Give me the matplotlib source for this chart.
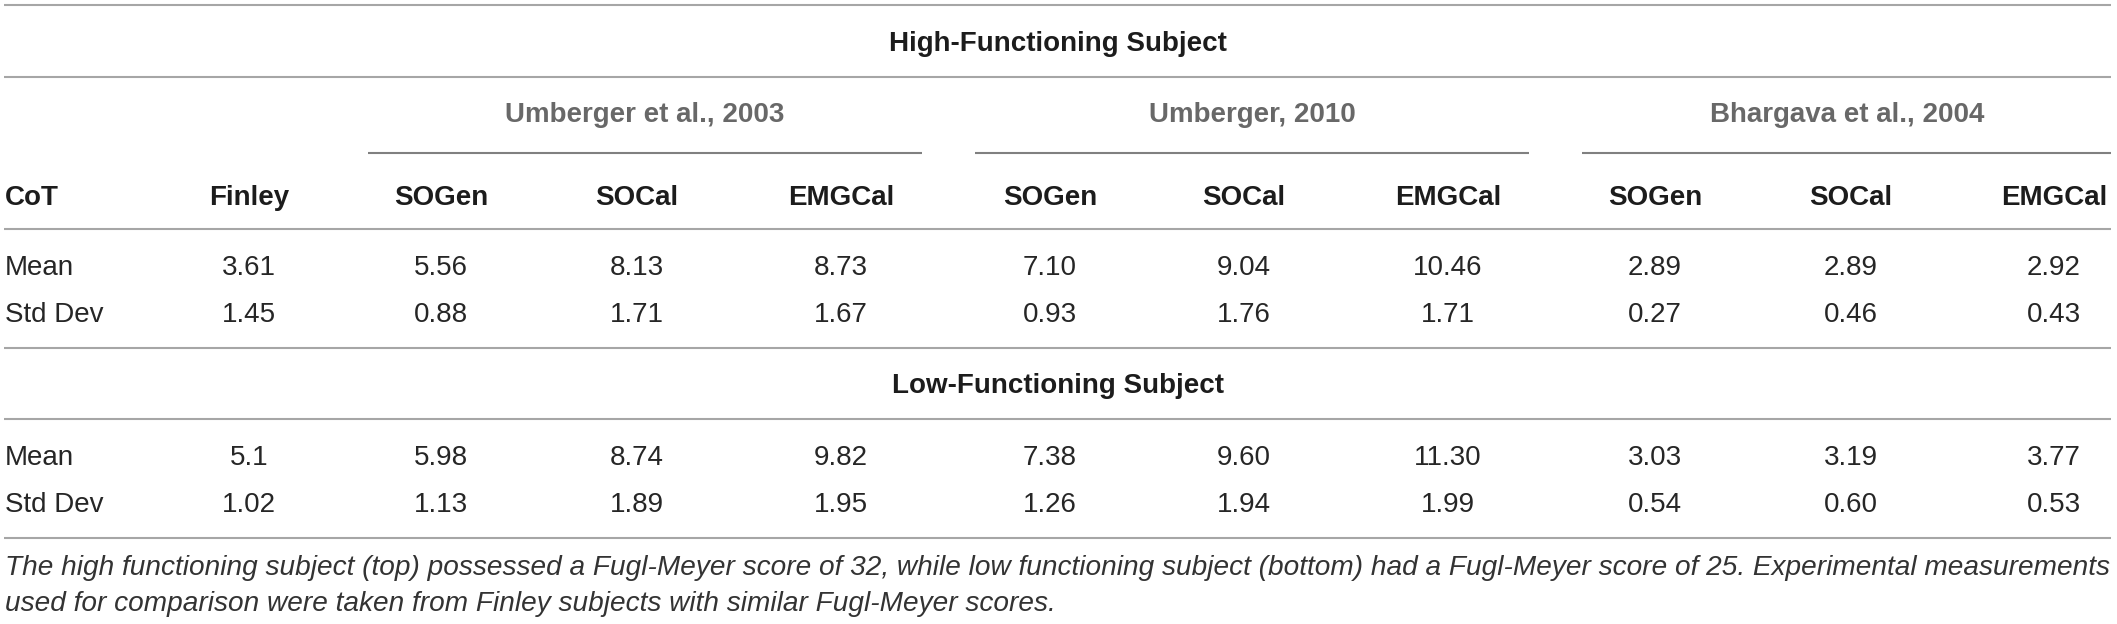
import matplotlib
matplotlib.use("Agg")
import matplotlib.pyplot as plt

# ---------------- data ----------------
row_label_header = "CoT"
first_col = "Finley"
groups = ["Umberger et al., 2003", "Umberger, 2010", "Bhargava et al., 2004"]
methods = ["SOGen", "SOCal", "EMGCal"]
section_titles = ["High-Functioning Subject", "Low-Functioning Subject"]
row_labels = ["Mean", "Std Dev"]

high_mean = ["3.61", "5.56", "8.13", "8.73", "7.10", "9.04", "10.46", "2.89", "2.89", "2.92"]
high_std = ["1.45", "0.88", "1.71", "1.67", "0.93", "1.76", "1.71", "0.27", "0.46", "0.43"]
low_mean = ["5.1", "5.98", "8.74", "9.82", "7.38", "9.60", "11.30", "3.03", "3.19", "3.77"]
low_std = ["1.02", "1.13", "1.89", "1.95", "1.26", "1.94", "1.99", "0.54", "0.60", "0.53"]

caption_lines = [
    "The high functioning subject (top) possessed a Fugl-Meyer score of 32, while low functioning subject (bottom) had a Fugl-Meyer score of 25. Experimental measurements",
    "used for comparison were taken from Finley subjects with similar Fugl-Meyer scores.",
]

# ---------------- layout (pixels) ----------------
W, H = 2117, 624
fig = plt.figure(figsize=(W / 100, H / 100), dpi=100)
ax = fig.add_axes([0, 0, 1, 1])
ax.set_xlim(0, W)
ax.set_ylim(H, 0)
ax.axis("off")

FONT = ["Liberation Sans", "DejaVu Sans"]
FS = 20
left_x = 5
right_x = 2111
col_x = [249, 441, 637, 841, 1050, 1244, 1448, 1655, 1851, 2054]
group_spans = [(368, 922), (975, 1529), (1582, 2111)]
group_cx = [645, 1252, 1847]
center_x = 1058

dark = "#1c1c1c"
num_col = "#262626"
grey_head = "#686868"
line_light = "#a6a6a6"
line_dark = "#808080"
lw = 1.5

# horizontal rules
for y in [5, 77, 229, 348, 419, 538]:
    ax.hlines(y, left_x - 1, right_x, color=line_light, lw=lw)
for (x0, x1) in group_spans:
    ax.hlines(153, x0, x1, color=line_dark, lw=lw)

# section titles
ax.text(center_x, 51, section_titles[0], ha="center", va="baseline",
        fontsize=FS, fontweight="bold", color=dark, family=FONT)
ax.text(center_x, 393, section_titles[1], ha="center", va="baseline",
        fontsize=FS, fontweight="bold", color=dark, family=FONT)

# group headers
for g, cx in zip(groups, group_cx):
    ax.text(cx, 122, g, ha="center", va="baseline", fontsize=FS,
            fontweight="bold", color=grey_head, family=FONT)

# column header row
headers = [first_col] + methods * len(groups)
ax.text(left_x, 205, row_label_header, ha="left", va="baseline", fontsize=FS,
        fontweight="bold", color=dark, family=FONT)
for h, cx in zip(headers, col_x):
    ax.text(cx, 205, h, ha="center", va="baseline", fontsize=FS,
            fontweight="bold", color=dark, family=FONT)

# body rows
rows = [(275, row_labels[0], high_mean), (322, row_labels[1], high_std),
        (465, row_labels[0], low_mean), (512, row_labels[1], low_std)]
for yb, lab, vals in rows:
    ax.text(left_x, yb, lab, ha="left", va="baseline", fontsize=FS,
            color=num_col, family=FONT)
    for v, cx in zip(vals, col_x):
        ax.text(cx, yb, v, ha="center", va="baseline", fontsize=FS,
                color=num_col, family=FONT)

# caption, first line fitted to the table width
cap_fs = 18
t1 = ax.text(left_x, 575, caption_lines[0], ha="left", va="baseline",
             fontsize=cap_fs, style="italic", color="#333333", family=FONT)
fig.canvas.draw()
r = fig.canvas.get_renderer()
wpx = t1.get_window_extent(renderer=r).width
cap_fs = cap_fs * (right_x - left_x) / wpx
t1.set_fontsize(cap_fs)
ax.text(left_x, 611, caption_lines[1], ha="left", va="baseline",
        fontsize=cap_fs, style="italic", color="#333333", family=FONT)

fig.savefig("out.png", dpi=100)
